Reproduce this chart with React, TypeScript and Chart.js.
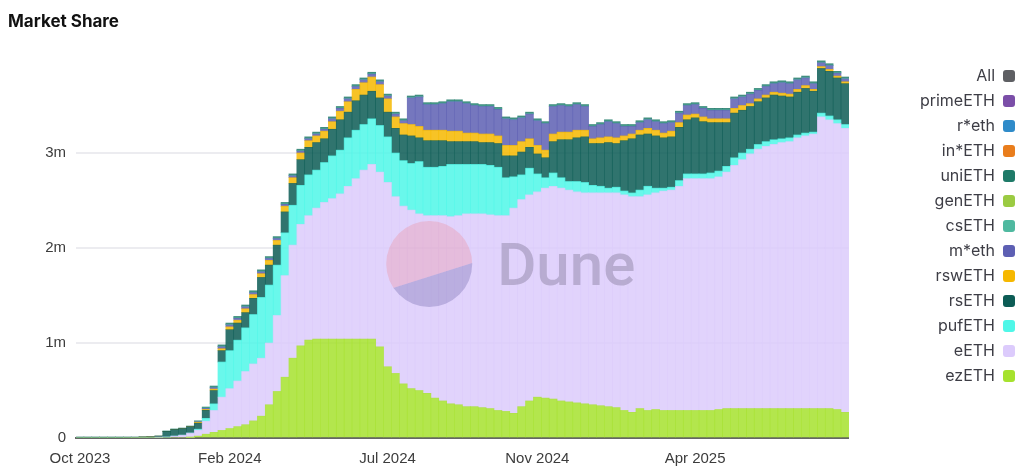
import { useEffect, useRef } from "react";
import { Chart, registerables } from "chart.js";

Chart.register(...registerables);

// weekly buckets, starting 2023-10-04
const startDate = "2023-10-04";
const weekCount = 98;
const categories: string[] = [];
for (let i = 0; i < weekCount; i++) {
    const d = new Date(startDate + "T00:00:00Z");
    d.setUTCDate(d.getUTCDate() + i * 7);
    categories.push(d.toISOString().slice(0, 10));
}

const tickWeeks = [0, 19, 39, 58, 78];
const tickLabels = ["Oct 2023", "Feb 2024", "Jul 2024", "Nov 2024", "Apr 2025"];
const yTicks = ["0", "1m", "2m", "3m"];

// values in millions of ETH
const ezETH = [
    0, 0, 0, 0, 0, 0, 0, 0, 0, 0,
    0, 0, 0, 0, 0.005, 0.02, 0.04, 0.06, 0.08, 0.10,
    0.12, 0.14, 0.18, 0.23, 0.35, 0.49, 0.64, 0.84, 0.97, 1.03,
    1.04, 1.04, 1.04, 1.04, 1.04, 1.04, 1.04, 1.04, 0.96, 0.75,
    0.68, 0.57, 0.52, 0.50, 0.47, 0.42, 0.39, 0.36, 0.35, 0.33,
    0.33, 0.32, 0.31, 0.29, 0.28, 0.26, 0.33, 0.39, 0.43, 0.42,
    0.41, 0.39, 0.38, 0.37, 0.36, 0.35, 0.34, 0.33, 0.32, 0.29,
    0.27, 0.31, 0.29, 0.30, 0.29, 0.29, 0.29, 0.29, 0.29, 0.29,
    0.29, 0.30, 0.31, 0.31, 0.31, 0.31, 0.31, 0.31, 0.31, 0.31,
    0.31, 0.31, 0.31, 0.31, 0.31, 0.31, 0.30, 0.27,
];
const eETH = [
    0, 0, 0, 0, 0, 0, 0, 0, 0, 0,
    0.005, 0.01, 0.02, 0.03, 0.047, 0.063, 0.137, 0.23, 0.35, 0.42,
    0.48, 0.56, 0.60, 0.61, 0.65, 0.80, 1.07, 1.19, 1.28, 1.31,
    1.38, 1.44, 1.48, 1.53, 1.61, 1.69, 1.78, 1.84, 1.84, 1.94,
    1.86, 1.87, 1.88, 1.86, 1.87, 1.92, 1.95, 1.97, 1.99, 2.03,
    2.03, 2.04, 2.04, 2.05, 2.06, 2.16, 2.18, 2.17, 2.16, 2.21,
    2.24, 2.24, 2.23, 2.22, 2.22, 2.23, 2.24, 2.25, 2.26, 2.27,
    2.27, 2.23, 2.27, 2.28, 2.31, 2.32, 2.36, 2.44, 2.44, 2.44,
    2.44, 2.45, 2.49, 2.56, 2.62, 2.68, 2.73, 2.76, 2.78, 2.80,
    2.81, 2.85, 2.87, 2.89, 3.07, 3.04, 3.01, 2.99,
];
const pufETH = [
    0, 0, 0, 0, 0, 0, 0, 0, 0, 0,
    0, 0, 0, 0, 0, 0.01, 0.03, 0.07, 0.37, 0.40,
    0.43, 0.46, 0.52, 0.64, 0.61, 0.53, 0.45, 0.42, 0.41, 0.43,
    0.40, 0.42, 0.45, 0.46, 0.51, 0.51, 0.48, 0.48, 0.49, 0.48,
    0.46, 0.48, 0.49, 0.55, 0.51, 0.51, 0.52, 0.55, 0.54, 0.52,
    0.52, 0.52, 0.52, 0.51, 0.40, 0.33, 0.26, 0.28, 0.19, 0.11,
    0.14, 0.11, 0.09, 0.11, 0.11, 0.08, 0.07, 0.05, 0.06, 0.04,
    0.04, 0.07, 0.09, 0.05, 0.03, 0.03, 0.06, 0.05, 0.05, 0.05,
    0.06, 0.06, 0.06, 0.08, 0.07, 0.05, 0.05, 0.05, 0.05, 0.04,
    0.04, 0.03, 0.03, 0.02, 0.04, 0.04, 0.04, 0.04,
];
const rsETH = [
    0.002, 0.002, 0.002, 0.002, 0.002, 0.003, 0.005, 0.007, 0.01, 0.012,
    0.014, 0.06, 0.07, 0.07, 0.068, 0.063, 0.084, 0.14, 0.12, 0.22,
    0.18, 0.16, 0.17, 0.21, 0.21, 0.21, 0.22, 0.23, 0.27, 0.29,
    0.29, 0.25, 0.28, 0.32, 0.27, 0.31, 0.31, 0.29, 0.29, 0.26,
    0.26, 0.27, 0.29, 0.25, 0.28, 0.28, 0.27, 0.24, 0.24, 0.24,
    0.24, 0.23, 0.24, 0.25, 0.23, 0.22, 0.24, 0.22, 0.21, 0.21,
    0.33, 0.40, 0.44, 0.46, 0.48, 0.44, 0.45, 0.48, 0.46, 0.53,
    0.57, 0.58, 0.55, 0.55, 0.53, 0.53, 0.56, 0.57, 0.59, 0.55,
    0.53, 0.51, 0.46, 0.47, 0.45, 0.45, 0.45, 0.46, 0.47, 0.45,
    0.43, 0.45, 0.47, 0.43, 0.47, 0.47, 0.44, 0.43,
];
const rswETH = [
    0, 0, 0, 0, 0, 0, 0, 0, 0, 0,
    0, 0, 0, 0, 0, 0.01, 0.01, 0.015, 0.02, 0.03,
    0.03, 0.04, 0.04, 0.04, 0.05, 0.05, 0.06, 0.06, 0.07, 0.07,
    0.07, 0.08, 0.08, 0.09, 0.11, 0.12, 0.13, 0.15, 0.14, 0.14,
    0.12, 0.12, 0.12, 0.12, 0.11, 0.11, 0.11, 0.11, 0.11, 0.09,
    0.09, 0.09, 0.09, 0.08, 0.11, 0.11, 0.11, 0.09, 0.09, 0.08,
    0.08, 0.08, 0.08, 0.08, 0.07, 0.05, 0.06, 0.06, 0.06, 0.05,
    0.05, 0.05, 0.06, 0.06, 0.05, 0.06, 0.05, 0.05, 0.04, 0.05,
    0.04, 0.04, 0.04, 0.05, 0.05, 0.03, 0.03, 0.03, 0.03, 0.03,
    0.03, 0.03, 0.03, 0.02, 0.02, 0.02, 0.02, 0.02,
];
const mEth = [
    0, 0, 0, 0, 0, 0, 0, 0, 0, 0,
    0, 0, 0, 0, 0, 0.005, 0.01, 0.015, 0.02, 0.02,
    0.02, 0.02, 0.02, 0.02, 0.02, 0.02, 0.02, 0.02, 0.02, 0.02,
    0.02, 0.02, 0.03, 0.03, 0.03, 0.03, 0.03, 0.03, 0.03, 0.03,
    0.03, 0.03, 0.28, 0.31, 0.27, 0.27, 0.28, 0.31, 0.31, 0.31,
    0.29, 0.29, 0.29, 0.28, 0.28, 0.27, 0.25, 0.26, 0.26, 0.28,
    0.29, 0.28, 0.27, 0.27, 0.25, 0.13, 0.14, 0.16, 0.15, 0.10,
    0.08, 0.08, 0.09, 0.09, 0.10, 0.09, 0.10, 0.10, 0.10, 0.09,
    0.09, 0.09, 0.09, 0.10, 0.09, 0.10, 0.09, 0.09, 0.09, 0.11,
    0.11, 0.10, 0.08, 0.06, 0.04, 0.04, 0.03, 0.03,
];
const csETH = [
    0, 0, 0, 0, 0, 0, 0, 0, 0, 0,
    0, 0.001, 0.002, 0.002, 0.002, 0.004, 0.005, 0.005, 0.005, 0.005,
    0.005, 0.005, 0.005, 0.005, 0.005, 0.005, 0.005, 0.005, 0.005, 0.005,
    0.005, 0.005, 0.005, 0.005, 0.005, 0.005, 0.005, 0.005, 0.005, 0.005,
    0.005, 0.005, 0.005, 0.005, 0.005, 0.005, 0.005, 0.005, 0.005, 0.005,
    0.005, 0.005, 0.005, 0.005, 0.005, 0.005, 0.005, 0.005, 0.005, 0.005,
    0.005, 0.005, 0.005, 0.005, 0.005, 0.005, 0.005, 0.005, 0.005, 0.005,
    0.005, 0.005, 0.005, 0.005, 0.005, 0.005, 0.005, 0.005, 0.005, 0.005,
    0.005, 0.005, 0.005, 0.005, 0.005, 0.005, 0.005, 0.005, 0.005, 0.005,
    0.005, 0.005, 0.005, 0.005, 0.005, 0.005, 0.005, 0.005,
];
const uniETH = [
    0, 0, 0, 0, 0, 0, 0, 0, 0, 0,
    0.002, 0.003, 0.003, 0.003, 0.004, 0.006, 0.01, 0.012, 0.015, 0.015,
    0.015, 0.015, 0.015, 0.015, 0.015, 0.015, 0.015, 0.015, 0.015, 0.015,
    0.015, 0.015, 0.015, 0.015, 0.015, 0.015, 0.015, 0.015, 0.015, 0.015,
    0.015, 0.015, 0.015, 0.015, 0.015, 0.015, 0.015, 0.015, 0.015, 0.015,
    0.015, 0.015, 0.015, 0.015, 0.015, 0.015, 0.015, 0.015, 0.015, 0.015,
    0.015, 0.015, 0.015, 0.015, 0.015, 0.015, 0.015, 0.015, 0.015, 0.015,
    0.015, 0.015, 0.015, 0.015, 0.015, 0.015, 0.015, 0.015, 0.015, 0.015,
    0.015, 0.015, 0.015, 0.015, 0.015, 0.015, 0.015, 0.015, 0.015, 0.015,
    0.015, 0.015, 0.015, 0.015, 0.015, 0.015, 0.015, 0.015,
];
// not visible at this scale
const genETH: number[] = [];
const inETH: number[] = [];
const rEth: number[] = [];
const primeETH: number[] = [];
const allTotal: number[] = [];

const seriesNames = ["ezETH", "eETH", "pufETH", "rsETH", "rswETH", "m*eth", "csETH", "genETH", "uniETH", "in*ETH", "r*eth", "primeETH", "All"];
const seriesData = [ezETH, eETH, pufETH, rsETH, rswETH, mEth, csETH, genETH, uniETH, inETH, rEth, primeETH, allTotal];
const seriesColors = ["#a6e22e", "#dccbfc", "#4ff7e8", "#0c5c55", "#f6b800", "#5d5fb3", "#4fb9a0", "#9bcb42", "#1e7a68", "#e97d1c", "#2f8bc9", "#7b4ea8", "#5e5f63"];

const axisFont = { family: "'Liberation Sans', Arial, sans-serif", size: 15 };

const watermark = {
    id: "duneWatermark",
    afterDatasetsDraw(chart: any) {
        const { ctx, chartArea: a } = chart;
        const cx = a.left + a.width * 0.457;
        const cy = a.top + a.height * 0.542;
        const r = 43;
        const yAt = (x: number) => cy + 12.6 - (25 / 79) * (x - cx);
        const x1 = cx - r - 5;
        const x2 = cx + r + 5;

        ctx.save();
        ctx.beginPath();
        ctx.arc(cx, cy, r, 0, Math.PI * 2);
        ctx.clip();
        ctx.fillStyle = "rgba(244, 96, 90, 0.2)";
        ctx.beginPath();
        ctx.moveTo(x1, cy - r - 5);
        ctx.lineTo(x2, cy - r - 5);
        ctx.lineTo(x2, yAt(x2));
        ctx.lineTo(x1, yAt(x1));
        ctx.closePath();
        ctx.fill();
        ctx.fillStyle = "rgba(30, 24, 112, 0.2)";
        ctx.beginPath();
        ctx.moveTo(x1, yAt(x1));
        ctx.lineTo(x2, yAt(x2));
        ctx.lineTo(x2, cy + r + 5);
        ctx.lineTo(x1, cy + r + 5);
        ctx.closePath();
        ctx.fill();
        ctx.restore();

        ctx.save();
        ctx.font = "500 60px Roboto";
        ctx.fillStyle = "rgba(110, 100, 130, 0.35)";
        ctx.textBaseline = "alphabetic";
        ctx.fillText("Dune", cx + 68, cy + 21);
        ctx.restore();
    },
};

const MarketShare: React.FC = () => {
    const chartRef = useRef<HTMLCanvasElement>(null);

    useEffect(() => {
        if (!chartRef.current) return;
        const ctx = chartRef.current.getContext("2d");
        if (!ctx) return;

        const chart = new Chart(ctx, {
            type: "bar",
            data: {
                labels: categories,
                datasets: seriesNames.map((name, i) => ({
                    label: name,
                    data: seriesData[i],
                    backgroundColor: seriesColors[i] + "d9",
                    borderWidth: 0,
                    barPercentage: 1,
                    categoryPercentage: 1,
                })),
            },
            options: {
                animation: false,
                responsive: true,
                maintainAspectRatio: false,
                layout: { padding: { left: 8, right: 0, top: 0, bottom: 0 } },
                plugins: {
                    tooltip: { enabled: false },
                    title: {
                        display: true,
                        text: "Market Share",
                        align: "start",
                        color: "#111111",
                        font: { family: "Inter", size: 17, weight: "bold" },
                        padding: { top: 12, bottom: 25.6 },
                    },
                    legend: {
                        position: "right",
                        align: "start",
                        reverse: true,
                        rtl: true,
                        title: { display: true, text: "", font: { size: 10 }, padding: { top: 47, bottom: 0 } },
                        labels: {
                            boxWidth: 12,
                            boxHeight: 12,
                            useBorderRadius: true,
                            borderRadius: 3,
                            padding: 9,
                            color: "#3d3d45",
                            font: { family: "Inter", size: 16 },
                            generateLabels: (c: any) =>
                                Chart.defaults.plugins.legend.labels.generateLabels(c).map((item: any) => ({
                                    ...item,
                                    fillStyle: seriesColors[item.datasetIndex],
                                    strokeStyle: seriesColors[item.datasetIndex],
                                    lineWidth: 0,
                                })),
                        },
                    },
                },
                scales: {
                    x: {
                        stacked: true,
                        afterFit: (scale: any) => {
                            scale.height = 30;
                        },
                        grid: { display: false, drawTicks: false },
                        border: { display: true, color: "#666666", width: 2 },
                        ticks: {
                            autoSkip: false,
                            maxRotation: 0,
                            minRotation: 0,
                            padding: 12,
                            color: "#3c3c3c",
                            font: axisFont,
                            callback: (_v: any, index: number) => {
                                const k = tickWeeks.indexOf(index);
                                return k >= 0 ? tickLabels[k] : "";
                            },
                        },
                    },
                    y: {
                        stacked: true,
                        min: 0,
                        max: 4,
                        afterFit: (scale: any) => {
                            scale.width = 68;
                        },
                        grid: {
                            drawTicks: false,
                            lineWidth: 2,
                            color: (c: any) => (c.tick && c.tick.value >= 4 ? "rgba(0,0,0,0)" : "#ececf0"),
                        },
                        border: { display: false },
                        ticks: {
                            stepSize: 1,
                            padding: 10,
                            color: "#3c3c3c",
                            font: axisFont,
                            callback: (value: any) => {
                                const v = Number(value);
                                return v < yTicks.length ? yTicks[v] : "";
                            },
                        },
                    },
                    gap: {
                        position: "right",
                        display: true,
                        grid: { display: false, drawTicks: false },
                        border: { display: false },
                        ticks: { display: false },
                        afterFit: (scale: any) => {
                            scale.width = 61;
                        },
                    },
                },
            },
            plugins: [watermark],
        });

        return () => {
            chart.destroy();
        };
    }, []);

    return (
        <div style={{ position: "fixed", left: 0, top: 0, width: 1024, height: 468, background: "#fff" }}>
            <canvas ref={chartRef}></canvas>
        </div>
    );
};

export default function App() {
    return <MarketShare />;
}
